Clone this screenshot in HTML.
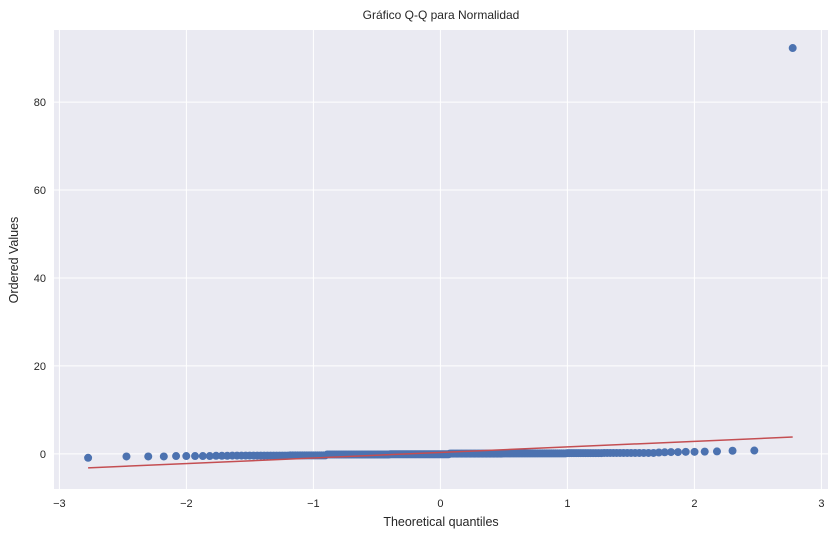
<!DOCTYPE html>
<html><head><meta charset="utf-8"><style>
body{margin:0;background:#fff;font-family:"Liberation Sans",sans-serif}
text{font-family:"Liberation Sans",sans-serif;fill:#262626}
</style></head><body>
<svg id="chart" width="837" height="538" xmlns="http://www.w3.org/2000/svg">
<rect x="54" y="30" width="774" height="459" fill="#eaeaf2"/>
<g id="grid"></g><g id="marks"></g><g id="axes"></g>
<text x="441" y="19" text-anchor="middle" font-size="12">Gráfico Q-Q para Normalidad</text>
<text x="441" y="526" text-anchor="middle" font-size="12.5">Theoretical quantiles</text>
<text x="18" y="260" text-anchor="middle" font-size="12.5" transform="rotate(-90 18 260)">Ordered Values</text>
</svg>
<script>
const xTicks=[-3,-2,-1,0,1,2,3];
const yTicks=[0,20,40,60,80];
const orderedValues=[-0.9,-0.6,-0.6,-0.6,-0.5,-0.5,-0.5,-0.5,-0.5,-0.45,-0.45,-0.45,
-0.4,-0.4,-0.4,-0.4,-0.4,-0.4,-0.4,-0.4,-0.4,-0.4,-0.4,-0.4,-0.4,-0.4,-0.4,-0.4,-0.4,
-0.35,-0.35,-0.35,-0.35,-0.35,-0.35,-0.35,-0.35,-0.35,-0.35,-0.35,-0.35,-0.35,-0.35,-0.35,-0.35,-0.35,
-0.15,-0.15,-0.15,-0.15,-0.15,-0.15,-0.15,-0.15,-0.15,-0.15,-0.15,-0.15,-0.15,-0.15,-0.15,-0.15,-0.15,-0.15,-0.15,-0.15,
-0.15,-0.15,-0.15,-0.15,-0.15,-0.15,-0.15,-0.15,-0.15,-0.15,-0.15,-0.15,-0.15,-0.15,-0.15,-0.15,-0.15,-0.15,-0.15,-0.15,
-0.1,-0.1,-0.1,-0.1,-0.1,-0.1,-0.1,-0.1,-0.1,-0.1,-0.1,-0.1,-0.1,-0.1,-0.1,-0.1,-0.1,-0.1,-0.1,-0.1,-0.1,-0.1,-0.1,
-0.1,-0.1,-0.1,-0.1,-0.1,-0.1,-0.1,-0.1,-0.1,-0.1,-0.1,-0.1,-0.1,-0.1,-0.1,-0.1,-0.1,-0.1,-0.1,-0.1,-0.1,-0.1,-0.1,
0.05,0.05,0.05,0.05,0.05,0.05,0.05,0.05,0.05,0.05,0.05,0.05,0.05,0.05,0.05,0.05,0.05,0.05,0.05,0.05,
0.05,0.05,0.05,0.05,0.05,0.05,0.05,0.05,0.05,0.05,0.05,0.05,0.05,0.05,0.05,0.05,0.05,0.05,0.05,0.05,
0.1,0.1,0.1,0.1,0.1,0.1,0.1,0.1,0.1,0.1,0.1,0.1,0.1,0.1,0.1,0.1,0.1,0.1,0.1,
0.1,0.1,0.1,0.1,0.1,0.1,0.1,0.1,0.1,0.1,0.1,0.1,0.1,0.1,0.1,0.1,0.1,0.1,0.1,
0.15,0.15,0.15,0.15,0.15,0.15,0.15,0.15,0.15,0.15,0.15,0.15,0.15,0.15,0.15,
0.2,0.2,0.2,0.2,0.2,0.2,0.2,0.2,0.2,0.2,0.2,0.2,0.2,0.2,
0.3,0.35,0.4,0.4,0.45,0.45,0.5,0.55,0.7,0.75,92.3];
const X0=54,X1=828,Y0=489,Y1=30,XMIN=-3.0425,XMAX=3.0520,YMIN=-8,YMAX=96.4;
const sx=v=>X0+(v-XMIN)/(XMAX-XMIN)*(X1-X0);
const sy=v=>Y0-(v-YMIN)/(YMAX-YMIN)*(Y0-Y1);
const NS='http://www.w3.org/2000/svg';
function mk(t,a,p){const e=document.createElementNS(NS,t);for(const k in a)e.setAttribute(k,a[k]);p.appendChild(e);return e;}
function ndtri(p){const a=[-39.69683028665376,220.9460984245205,-275.9285104469687,138.3577518672690,-30.66479806614716,2.506628277459239],
b=[-54.47609879822406,161.5858368580409,-155.6989798598866,66.80131188771972,-13.28068155288572],
c=[-0.007784894002430293,-0.3223964580411365,-2.400758277161838,-2.549732539343734,4.374664141464968,2.938163982698783],
d=[0.007784695709041462,0.3224671290700398,2.445134137142996,3.754408661907416];
let q,r;if(p<0.02425){q=Math.sqrt(-2*Math.log(p));return(((((c[0]*q+c[1])*q+c[2])*q+c[3])*q+c[4])*q+c[5])/((((d[0]*q+d[1])*q+d[2])*q+d[3])*q+1);}
if(p>1-0.02425){q=Math.sqrt(-2*Math.log(1-p));return-(((((c[0]*q+c[1])*q+c[2])*q+c[3])*q+c[4])*q+c[5])/((((d[0]*q+d[1])*q+d[2])*q+d[3])*q+1);}
q=p-0.5;r=q*q;return(((((a[0]*r+a[1])*r+a[2])*r+a[3])*r+a[4])*r+a[5])*q/(((((b[0]*r+b[1])*r+b[2])*r+b[3])*r+b[4])*r+1);}
const grid=document.getElementById('grid'),marks=document.getElementById('marks'),axes=document.getElementById('axes');
xTicks.forEach(t=>{const x=sx(t);
 const g=mk('line',{x1:x,x2:x,y1:Y1,y2:Y0,stroke:'#fff','stroke-width':1},grid);
 
 const l=mk('text',{x:x,y:507,'text-anchor':'middle','font-size':11},axes);l.textContent=(t<0?'\u2212'+(-t):t);
 });
yTicks.forEach(t=>{const y=sy(t);
 const g=mk('line',{x1:X0,x2:X1,y1:y,y2:y,stroke:'#fff','stroke-width':1},grid);
 
 const l=mk('text',{x:46,y:y+4,'text-anchor':'end','font-size':11},axes);l.textContent=t;
 });
const n=orderedValues.length;
const osm=orderedValues.map((v,i)=>{let m;if(i===0)m=1-Math.pow(0.5,1/n);else if(i===n-1)m=Math.pow(0.5,1/n);else m=(i+1-0.3175)/(n+0.365);return ndtri(m);});
const mx=osm.reduce((a,b)=>a+b,0)/n,my=orderedValues.reduce((a,b)=>a+b,0)/n;
let sxy=0,sxx=0;osm.forEach((x,i)=>{sxy+=(x-mx)*(orderedValues[i]-my);sxx+=(x-mx)*(x-mx);});
const slope=sxy/sxx,intercept=my-slope*mx;
osm.forEach((x,i)=>{const c=mk('circle',{cx:sx(x),cy:sy(orderedValues[i]),r:4,fill:'#4c72b0'},marks);
 });
const fl=mk('line',{x1:sx(osm[0]),y1:sy(intercept+slope*osm[0]),x2:sx(osm[n-1]),y2:sy(intercept+slope*osm[n-1]),stroke:'#c44e52','stroke-width':1.5},marks);

</script>
</body></html>
